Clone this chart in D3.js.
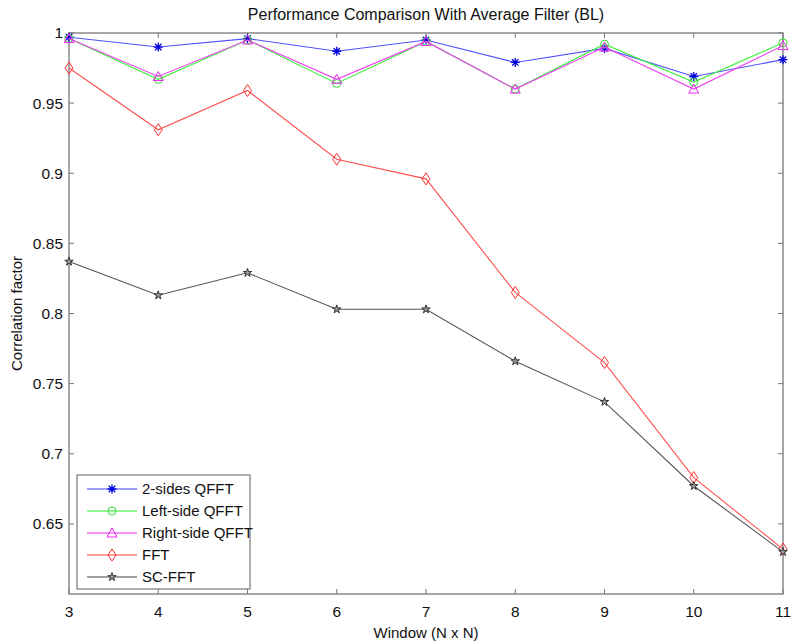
<!DOCTYPE html>
<html>
<head>
<meta charset="utf-8">
<script src="https://cdn.jsdelivr.net/npm/d3@7"></script>
<style>
body { margin: 0; background: #fff; }
text { font-family: "Liberation Sans", Arial, sans-serif; fill: #111; }
</style>
</head>
<body>
<div class="mainviz"></div>
<script>
var windows = [3, 4, 5, 6, 7, 8, 9, 10, 11];
var yTicks = [0.65, 0.7, 0.75, 0.8, 0.85, 0.9, 0.95, 1];

var twoSides   = [0.997, 0.990, 0.996, 0.987, 0.995, 0.979, 0.989, 0.969, 0.981];
var leftSide   = [0.996, 0.967, 0.995, 0.964, 0.994, 0.960, 0.992, 0.965, 0.993];
var rightSide  = [0.996, 0.969, 0.995, 0.967, 0.994, 0.960, 0.990, 0.960, 0.991];
var fft        = [0.975, 0.931, 0.959, 0.910, 0.896, 0.815, 0.765, 0.683, 0.632];
var scFft      = [0.837, 0.813, 0.829, 0.803, 0.803, 0.766, 0.737, 0.677, 0.630];

var seriesNames = ["2-sides QFFT", "Left-side QFFT", "Right-side QFFT", "FFT", "SC-FFT"];

var series = [
	{ name: seriesNames[0], values: twoSides,  line: "#5050ff", mark: "#0000dd", marker: "asterisk" },
	{ name: seriesNames[1], values: leftSide,  line: "#40f040", mark: "#33dd33", marker: "circle" },
	{ name: seriesNames[2], values: rightSide, line: "#f040f0", mark: "#ee22ee", marker: "triangle" },
	{ name: seriesNames[3], values: fft,       line: "#ff5050", mark: "#ff3030", marker: "diamond" },
	{ name: seriesNames[4], values: scFft,     line: "#555555", mark: "#333333", marker: "star" }
];

var margin = { top: 33, right: 11, bottom: 50, left: 69 };
var width = 794 - margin.left - margin.right,
	height = 644 - margin.top - margin.bottom;

var svg = d3.select(".mainviz").append("svg")
	.attr("width", 794)
	.attr("height", 644);

var chartGroup = svg.append("g")
	.attr("transform", "translate(" + margin.left + "," + margin.top + ")");

var x = d3.scaleLinear().domain([3, 11]).range([0, width]);
var y = d3.scaleLinear().domain([0.6, 1]).range([height, 0]);

// frame
chartGroup.append("rect")
	.attr("width", width).attr("height", height)
	.attr("fill", "none").attr("stroke", "#8a8a8a").attr("stroke-width", 1.5);

// ticks (inward, on all four sides like matlab's box)
var tk = 5;
windows.forEach(function(w){
	chartGroup.append("line").attr("x1", x(w)).attr("x2", x(w)).attr("y1", height).attr("y2", height - tk).attr("stroke", "#777");
	chartGroup.append("line").attr("x1", x(w)).attr("x2", x(w)).attr("y1", 0).attr("y2", tk).attr("stroke", "#777");
	chartGroup.append("text").attr("x", x(w)).attr("y", height + 23)
		.attr("text-anchor", "middle").attr("font-size", 15.5).text(w);
});
yTicks.forEach(function(v){
	chartGroup.append("line").attr("x1", 0).attr("x2", tk).attr("y1", y(v)).attr("y2", y(v)).attr("stroke", "#777");
	chartGroup.append("line").attr("x1", width).attr("x2", width - tk).attr("y1", y(v)).attr("y2", y(v)).attr("stroke", "#777");
	chartGroup.append("text").attr("x", -6).attr("y", y(v)).attr("dy", "0.35em")
		.attr("text-anchor", "end").attr("font-size", 15.5).text(v);
});

var line = d3.line()
	.x(function(d, i){ return x(windows[i]); })
	.y(function(d){ return y(d); });

function markerPath(type) {
	if (type === "asterisk") return "M-4.5,0H4.5M0,-4.5V4.5M-3.2,-3.2L3.2,3.2M-3.2,3.2L3.2,-3.2";
	if (type === "circle") return d3.symbol().type(d3.symbolCircle).size(50)();
	if (type === "triangle") return "M0,-5L5,4H-5Z";
	if (type === "diamond") return "M0,-6L4,0L0,6L-4,0Z";
	return d3.symbol().type(d3.symbolStar).size(22)();
}

function drawMarker(g, s, cx, cy) {
	g.append("path")
		.attr("d", markerPath(s.marker))
		.attr("transform", "translate(" + cx + "," + cy + ")")
		.attr("fill", s.marker === "star" ? "#999" : "none")
		.attr("stroke", s.mark)
		.attr("stroke-width", s.marker === "asterisk" ? 1.3 : 1);
}

series.forEach(function(s){
	chartGroup.append("path")
		.attr("d", line(s.values))
		.attr("fill", "none")
		.attr("stroke", s.line)
		.attr("stroke-width", 1.1);
	s.values.forEach(function(v, i){
		drawMarker(chartGroup, s, x(windows[i]), y(v));
	});
});

// legend
var legend = chartGroup.append("g").attr("transform", "translate(8," + (height - 119) + ")");
legend.append("rect")
	.attr("width", 173).attr("height", 114)
	.attr("fill", "#fff").attr("stroke", "#777").attr("stroke-width", 1.2);
series.forEach(function(s, i){
	var ly = 14 + i * 22;
	legend.append("line").attr("x1", 10).attr("x2", 60).attr("y1", ly).attr("y2", ly)
		.attr("stroke", s.line).attr("stroke-width", 1.6).attr("stroke-opacity", 0.75);
	drawMarker(legend, s, 35, ly);
	legend.append("text").attr("x", 65).attr("y", ly).attr("dy", "0.36em")
		.attr("font-size", 15).text(s.name);
});

// titles
svg.append("text").attr("x", margin.left + width / 2).attr("y", 20)
	.attr("text-anchor", "middle").attr("font-size", 16)
	.text("Performance Comparison With Average Filter (BL)");
svg.append("text").attr("x", margin.left + width / 2).attr("y", 638)
	.attr("text-anchor", "middle").attr("font-size", 15)
	.text("Window (N x N)");
svg.append("text")
	.attr("transform", "translate(22," + (margin.top + height / 2) + ") rotate(-90)")
	.attr("text-anchor", "middle").attr("font-size", 15)
	.text("Correlation factor");
</script>
</body>
</html>
